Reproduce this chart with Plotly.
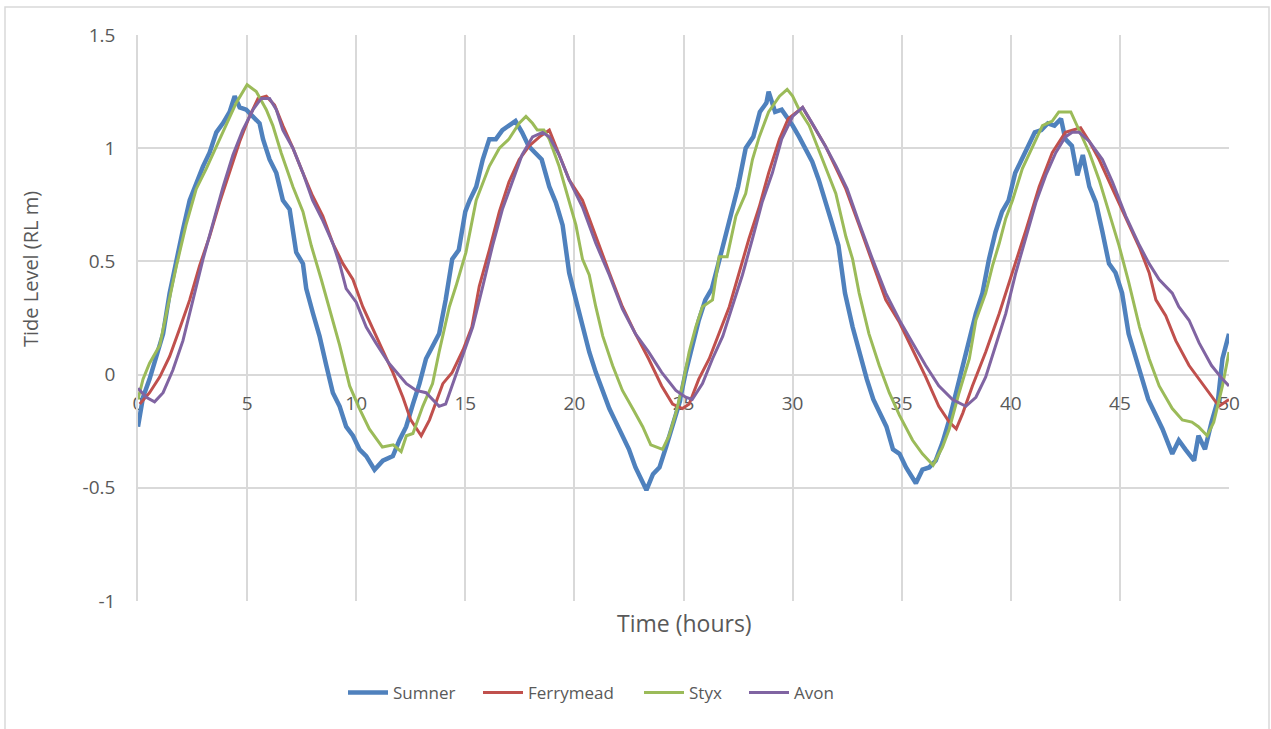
import plotly.graph_objects as go

# ---------------- data ----------------
sumner_t = [0, 0.23, 0.53, 0.84, 1.15, 1.45, 1.76, 2.06, 2.37, 2.67, 2.98, 3.28, 3.59, 3.89, 4.2, 4.43,
            4.66, 4.96, 5.27, 5.57, 5.73, 6.03, 6.34, 6.64, 6.95, 7.25, 7.56, 7.71, 8.02, 8.32, 8.63,
            8.93, 9.24, 9.54, 9.85, 10.15, 10.46, 10.84, 11.22, 11.68, 11.98, 12.29, 12.6, 12.9, 13.2,
            13.5, 13.8, 14.1, 14.4, 14.7, 15.0, 15.2, 15.5, 15.8, 16.1, 16.4, 16.7, 17.0, 17.3, 17.6,
            17.9, 18.2, 18.5, 18.85, 19.15, 19.46, 19.76, 20.07, 20.37, 20.68, 20.98, 21.3, 21.6, 21.9,
            22.2, 22.5, 22.8, 23.3, 23.6, 23.9, 24.2, 24.5, 24.8, 25.1, 25.4, 25.7, 26.0, 26.3, 26.6,
            26.9, 27.2, 27.5, 27.85, 28.2, 28.5, 28.8, 28.9, 29.2, 29.5, 29.8, 30.0, 30.3, 30.6, 30.9,
            31.2, 31.5, 31.8, 32.1, 32.4, 32.75, 33.05, 33.4, 33.7, 34.0, 34.3, 34.6, 34.9, 35.2, 35.65,
            35.95, 36.26, 36.56, 36.87, 37.18, 37.5, 37.8, 38.1, 38.4, 38.7, 39.0, 39.3, 39.6, 39.9,
            40.2, 40.5, 40.8, 41.1, 41.4, 41.7, 42.0, 42.3, 42.5, 42.8, 43.05, 43.3, 43.6, 43.9, 44.2,
            44.5, 44.8, 45.1, 45.4, 45.7, 46.0, 46.3, 46.6, 46.95, 47.4, 47.7, 48.0, 48.4, 48.6, 48.9,
            49.2, 49.5, 49.7, 50.0]
sumner_v = [-0.23, -0.10, -0.02, 0.08, 0.18, 0.36, 0.51, 0.64, 0.77, 0.85, 0.92, 0.98, 1.07, 1.11, 1.16, 1.23,
            1.18, 1.17, 1.14, 1.11, 1.04, 0.95, 0.89, 0.77, 0.73, 0.54, 0.49, 0.38, 0.27, 0.17, 0.04,
            -0.08, -0.14, -0.23, -0.27, -0.33, -0.36, -0.42, -0.38, -0.36, -0.29, -0.23, -0.13, -0.04, 0.07,
            0.13, 0.18, 0.33, 0.51, 0.55, 0.72, 0.77, 0.83, 0.95, 1.04, 1.04, 1.08, 1.10, 1.12, 1.07,
            1.01, 0.98, 0.95, 0.83, 0.76, 0.66, 0.45, 0.33, 0.21, 0.10, 0.01, -0.08, -0.15, -0.21,
            -0.27, -0.33, -0.41, -0.51, -0.44, -0.41, -0.32, -0.23, -0.13, 0.01, 0.13, 0.24, 0.33, 0.38, 0.49,
            0.60, 0.72, 0.83, 1.00, 1.05, 1.16, 1.20, 1.25, 1.16, 1.17, 1.13, 1.10, 1.05, 1.00, 0.94,
            0.86, 0.77, 0.67, 0.57, 0.36, 0.21, 0.10, -0.02, -0.11, -0.17, -0.23, -0.33, -0.35, -0.41, -0.48,
            -0.42, -0.41, -0.38, -0.30, -0.20, -0.08, 0.04, 0.14, 0.27, 0.36, 0.51, 0.63, 0.72, 0.77,
            0.89, 0.95, 1.01, 1.07, 1.08, 1.11, 1.10, 1.13, 1.04, 1.01, 0.88, 0.97, 0.83, 0.76, 0.63,
            0.49, 0.45, 0.36, 0.18, 0.08, -0.02, -0.11, -0.17, -0.24, -0.35, -0.29, -0.33, -0.38, -0.27, -0.33,
            -0.21, -0.11, 0.07, 0.18]

ferry_t = [0.08, 0.53, 1.0, 1.45, 1.9, 2.37, 2.82, 3.28, 3.74, 4.2, 4.66, 5.11, 5.5, 5.88, 6.26, 6.64,
           7.1, 7.56, 8.0, 8.47, 8.93, 9.39, 9.85, 10.3, 10.76, 11.2, 11.68, 12.14, 12.5, 12.98, 13.36,
           13.97, 14.4, 14.9, 15.3, 15.64, 16.1, 16.56, 17.0, 17.47, 17.93, 18.4, 18.85, 19.3, 19.76,
           20.37, 20.98, 21.6, 22.2, 22.8, 23.4, 24.0, 24.5, 24.95, 25.26, 25.7, 26.18, 26.63, 27.1,
           27.55, 28.0, 28.47, 28.9, 29.4, 29.8, 30.46, 30.9, 31.5, 32.0, 32.44, 33.05, 33.66, 34.27,
           34.9, 35.5, 36.1, 36.7, 37.18, 37.5, 37.8, 38.24, 38.85, 39.47, 40.08, 40.7, 41.3, 41.9,
           42.5, 42.82, 43.2, 43.6, 44.05, 44.66, 45.27, 45.9, 46.34, 46.65, 47.1, 47.56, 48.17, 48.63,
           49.1, 49.54, 50.0]
ferry_v = [-0.13, -0.08, -0.01, 0.08, 0.20, 0.33, 0.48, 0.61, 0.76, 0.89, 1.03, 1.14, 1.22, 1.23, 1.19, 1.10,
           1.00, 0.89, 0.79, 0.70, 0.58, 0.49, 0.42, 0.30, 0.20, 0.11, 0.01, -0.10, -0.20, -0.27, -0.20,
           -0.04, 0.01, 0.11, 0.21, 0.39, 0.55, 0.72, 0.85, 0.95, 1.01, 1.05, 1.08, 0.97, 0.86,
           0.77, 0.61, 0.45, 0.30, 0.18, 0.07, -0.05, -0.13, -0.15, -0.13, -0.02, 0.07, 0.18, 0.30,
           0.45, 0.60, 0.74, 0.89, 1.04, 1.13, 1.18, 1.11, 1.01, 0.91, 0.82, 0.66, 0.49, 0.33,
           0.23, 0.11, -0.01, -0.14, -0.21, -0.24, -0.17, -0.05, 0.10, 0.27, 0.45, 0.64, 0.83, 0.98,
           1.07, 1.08, 1.09, 1.03, 0.95, 0.82, 0.69, 0.56, 0.45, 0.33, 0.26, 0.15, 0.04, -0.02,
           -0.08, -0.14, -0.11]

styx_t = [0, 0.23, 0.53, 1.0, 1.3, 1.76, 2.2, 2.67, 3.13, 3.6, 4.05, 4.5, 5.0, 5.42, 5.88, 6.18, 6.56,
          7.1, 7.56, 7.94, 8.4, 8.78, 9.24, 9.7, 10.15, 10.6, 11.2, 11.7, 12.06, 12.3, 12.6, 13.05,
          13.5, 13.8, 14.27, 14.57, 15.03, 15.5, 16.1, 16.56, 17.0, 17.47, 17.78, 18.08, 18.3, 18.6,
          18.85, 19.3, 19.76, 20.07, 20.37, 20.68, 20.98, 21.3, 21.75, 22.2, 22.67, 23.13, 23.5, 24.04,
          24.34, 24.65, 24.95, 25.26, 25.56, 25.87, 26.33, 26.63, 27.0, 27.4, 27.85, 28.16, 28.47,
          28.9, 29.4, 29.75, 30.0, 30.3, 30.76, 31.37, 31.98, 32.44, 32.75, 33.05, 33.5, 33.97, 34.43,
          34.9, 35.5, 35.95, 36.44, 36.87, 37.18, 37.63, 38.1, 38.4, 38.85, 39.16, 39.47, 39.77, 40.08,
          40.53, 41.0, 41.45, 41.9, 42.2, 42.75, 43.13, 43.6, 44.05, 44.5, 44.96, 45.4, 45.9, 46.34,
          46.8, 47.4, 47.86, 48.3, 48.6, 49.0, 49.3, 49.7, 50.0]
styx_v = [-0.11, -0.02, 0.05, 0.13, 0.27, 0.48, 0.66, 0.82, 0.91, 1.01, 1.11, 1.20, 1.28, 1.25, 1.17, 1.10, 0.98,
          0.83, 0.72, 0.57, 0.42, 0.29, 0.13, -0.05, -0.15, -0.24, -0.32, -0.31, -0.34, -0.27, -0.26, -0.14,
          -0.04, 0.10, 0.30, 0.39, 0.54, 0.77, 0.92, 1.00, 1.04, 1.11, 1.14, 1.11, 1.08, 1.08,
          1.04, 0.92, 0.77, 0.66, 0.51, 0.44, 0.30, 0.17, 0.04, -0.07, -0.15, -0.23, -0.31, -0.33,
          -0.27, -0.17, -0.05, 0.10, 0.21, 0.30, 0.33, 0.52, 0.52, 0.70, 0.80, 0.95, 1.05,
          1.16, 1.23, 1.26, 1.23, 1.17, 1.10, 0.95, 0.80, 0.61, 0.51, 0.36, 0.18, 0.04, -0.08,
          -0.18, -0.29, -0.35, -0.40, -0.32, -0.24, -0.08, 0.07, 0.24, 0.36, 0.48, 0.58, 0.69, 0.77,
          0.91, 1.01, 1.10, 1.12, 1.16, 1.16, 1.08, 0.98, 0.86, 0.72, 0.57, 0.41, 0.21, 0.07,
          -0.05, -0.15, -0.20, -0.21, -0.23, -0.27, -0.21, -0.05, 0.10]

avon_t = [0, 0.38, 0.76, 1.15, 1.6, 2.06, 2.52, 2.98, 3.44, 3.9, 4.35, 4.8, 5.27, 5.65, 6.03, 6.34, 6.64,
          7.1, 7.56, 8.0, 8.47, 8.93, 9.24, 9.54, 10.0, 10.46, 10.9, 11.5, 12.3, 12.75, 13.2, 13.8,
          14.1, 14.5, 14.88, 15.34, 15.8, 16.25, 16.7, 17.17, 17.6, 18.08, 18.54, 18.85, 19.3, 19.76,
          20.37, 20.98, 21.6, 22.2, 22.8, 23.4, 24.0, 24.65, 25.1, 25.4, 25.87, 26.33, 26.8, 27.2,
          27.7, 28.16, 28.6, 29.07, 29.5, 30.0, 30.46, 30.9, 31.5, 32.0, 32.5, 33.05, 33.66, 34.27,
          34.9, 35.5, 36.1, 36.7, 37.33, 37.94, 38.4, 38.85, 39.3, 39.77, 40.23, 40.7, 41.15, 41.6,
          42.06, 42.5, 42.82, 43.13, 43.6, 44.2, 44.66, 45.27, 45.9, 46.34, 46.8, 47.4, 47.7, 48.17,
          48.63, 49.2, 49.7, 50.0]
avon_v = [-0.06, -0.10, -0.12, -0.08, 0.02, 0.15, 0.33, 0.51, 0.67, 0.83, 0.97, 1.08, 1.17, 1.22, 1.22, 1.17, 1.08,
          1.00, 0.89, 0.77, 0.68, 0.58, 0.49, 0.38, 0.32, 0.21, 0.14, 0.05, -0.04, -0.07, -0.08, -0.14,
          -0.13, -0.02, 0.08, 0.21, 0.39, 0.57, 0.73, 0.86, 0.97, 1.05, 1.07, 1.05, 0.97, 0.86,
          0.74, 0.58, 0.44, 0.29, 0.18, 0.10, 0.01, -0.07, -0.10, -0.11, -0.04, 0.07, 0.17, 0.29,
          0.44, 0.60, 0.76, 0.89, 1.04, 1.14, 1.18, 1.11, 1.01, 0.92, 0.82, 0.67, 0.51, 0.36,
          0.24, 0.14, 0.04, -0.05, -0.11, -0.14, -0.10, -0.01, 0.13, 0.27, 0.45, 0.61, 0.76, 0.88,
          0.98, 1.05, 1.07, 1.07, 1.03, 0.95, 0.85, 0.70, 0.57, 0.49, 0.42, 0.36, 0.30, 0.24,
          0.14, 0.04, -0.02, -0.05]

x_ticks = [0, 5, 10, 15, 20, 25, 30, 35, 40, 45, 50]
y_ticks = [-1, -0.5, 0, 0.5, 1, 1.5]
y_tick_text = ["-1", "-0.5", "0", "0.5", "1", "1.5"]

# ---------------- figure ----------------
W, H = 1271, 729
L, R, T, B = 138, 42, 35, 128
PW, PH = W - L - R, H - T - B


def px_x(p):
    return (p - L) / PW


def px_y(p):
    return (H - B - p) / PH


series = [
    ("Sumner", sumner_t, sumner_v, "#4F81BD", 4.5, "legend", 347),
    ("Ferrymead", ferry_t, ferry_v, "#C0504D", 3, "legend2", 482),
    ("Styx", styx_t, styx_v, "#9BBB59", 3, "legend3", 643),
    ("Avon", avon_t, avon_v, "#8064A2", 3, "legend4", 748),
]

FONT = "Open Sans, Liberation Sans, sans-serif"
GRAY = "#595959"
GRID = "#d9d9d9"

fig = go.Figure()
legends = {}
for name, t, v, col, w, lg, lx in series:
    fig.add_trace(go.Scatter(x=t, y=v, mode="lines", name=name, legend=lg,
                             line=dict(color=col, width=w)))
    legends[lg] = dict(orientation="h", x=px_x(lx - 4), xanchor="left", y=px_y(693),
                       yanchor="middle", font=dict(size=17, color=GRAY),
                       bgcolor="rgba(0,0,0,0)", itemwidth=40)

fig.update_layout(
    width=W, height=H,
    margin=dict(l=L, r=R, t=T, b=B),
    paper_bgcolor="white", plot_bgcolor="white",
    font=dict(family=FONT, color=GRAY, size=17),
    showlegend=True,
    xaxis=dict(range=[0, 50], tickvals=x_ticks, showgrid=True, gridcolor=GRID, gridwidth=1.5,
               zeroline=False, showline=True, linecolor=GRID, linewidth=1.5,
               anchor="free", position=0.4, ticks="", ticklabelstandoff=12,
               tickfont=dict(size=19, color=GRAY), layer="below traces"),
    yaxis=dict(range=[-1, 1.5], tickvals=y_ticks, ticktext=y_tick_text, showgrid=True,
               gridcolor=GRID, gridwidth=1.5, zeroline=False, showline=True, linecolor=GRID,
               linewidth=1.5, ticks="", ticklabelstandoff=17,
               tickfont=dict(size=19, color=GRAY)),
    annotations=[
        dict(text="Tide Level (RL m)", xref="paper", yref="paper", x=px_x(30), y=px_y(269),
             textangle=-90, showarrow=False, font=dict(size=20, color=GRAY),
             xanchor="center", yanchor="middle"),
        dict(text="Time (hours)", xref="paper", yref="paper", x=px_x(684), y=px_y(623),
             showarrow=False, font=dict(size=23, color=GRAY),
             xanchor="center", yanchor="middle"),
    ],
    shapes=[
        dict(type="rect", xref="paper", yref="paper",
             x0=px_x(5), x1=px_x(1269), y0=px_y(740), y1=px_y(7),
             line=dict(color="#d9d9d9", width=1.5), fillcolor="rgba(0,0,0,0)", layer="below"),
    ],
)
fig.update_layout(**legends)

fig.write_html("out.html", config={"displayModeBar": False},
               post_script="document.body.style.margin='0';")
